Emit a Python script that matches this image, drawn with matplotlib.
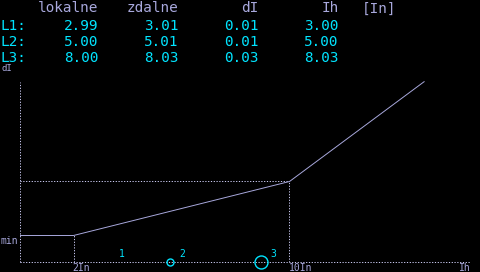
import matplotlib
matplotlib.use("Agg")
import matplotlib.pyplot as plt

# ---- data ----
columns = ["lokalne", "zdalne", "dI", "Ih"]
unit_label = "[In]"
rows = ["L1:", "L2:", "L3:"]
lokalne = [2.99, 5.00, 8.00]
zdalne = [3.01, 5.01, 8.03]
dI = [0.01, 0.01, 0.03]
Ih = [3.00, 5.00, 8.03]

# characteristic (Ih in In, dI in In)
char_ih = [0.0, 2.0, 10.0, 15.0]
char_di = [0.963, 0.963, 2.963, 6.67]
knee_labels = ["2In", "10In"]
knee_ih = [2.0, 10.0]
# measurement markers as placed on the chart
marker_ih = [3.33, 5.56, 8.93]
marker_names = ["1", "2", "3"]

# ---- style ----
LAV = "#a8a8dc"
CYAN = "#00e4ff"
BG = "black"
PX = 27.0  # pixels per In
marker_diam_px = [0, 7, 13]

W, H = 480, 272
fig = plt.figure(figsize=(W / 100, H / 100), dpi=100, facecolor=BG)

ax = fig.add_axes([19.5 / W, 10.5 / H, 460 / W, 191.5 / H])
ax.set_facecolor(BG)
ax.set_xlim(0, 460 / PX)
ax.set_ylim(0, 191.5 / PX)
ax.axis("off")

dot = dict(color="#c8c8f0", lw=0.72, linestyle=(0, (1.2, 1.6)), antialiased=True)
# axes
ax.plot([0, 0], [0, 179 / PX], clip_on=False, **dot)
ax.plot([0, 451 / PX], [0, 0], clip_on=False, **dot)
# guides
ax.plot([char_ih[1], char_ih[1]], [0, char_di[1]], **dot)
ax.plot([char_ih[2], char_ih[2]], [0, char_di[2]], **dot)
ax.plot([0, char_ih[2]], [char_di[2], char_di[2]], **dot)
# characteristic
ax.plot(char_ih, char_di, color=LAV, lw=0.7, antialiased=True, solid_capstyle="butt")

# markers
for x, d, name in zip(marker_ih, marker_diam_px, marker_names):
    if d > 0:
        ax.plot([x], [0], marker="o", ms=d * 0.72, mfc="none", mec=CYAN, mew=1.0,
                linestyle="none", clip_on=False)
    ax.annotate(name, (x, 0), xytext=(6.8, 3.2), textcoords="offset points",
                color=CYAN, fontsize=7, family="DejaVu Sans Mono", ha="left", va="baseline")

small = dict(color=LAV, fontsize=7, family="DejaVu Sans Mono")
for x, lab in zip(knee_ih, knee_labels):
    ax.annotate(lab, (x, 0), xytext=(-0.5, -1.0), textcoords="offset points",
                ha="left", va="top", **small)
ax.annotate("Ih", (451 / PX, 0), xytext=(0, -1.0), textcoords="offset points",
            ha="right", va="top", **small)
ax.annotate("min", (0, char_di[0]), xytext=(-1, -0.5), textcoords="offset points",
            ha="right", va="top", **small)
fig.text(1 / W, 1 - 71 / H, "dI", ha="left", va="baseline", color=LAV,
         fontsize=6.5, family="DejaVu Sans Mono")

# ---- table ----
big = dict(fontsize=10.4, family="DejaVu Sans Mono", va="baseline")
col_right = [98, 178, 258, 338]
header_base = 12.5
row_base = [29.5, 45.5, 61.5]
for cx, name in zip(col_right, columns):
    fig.text((cx + 0.5) / W, 1 - header_base / H, name, ha="right", color=LAV, **big)
fig.text(362 / W, 1 - header_base / H, unit_label, ha="left", color=LAV, **big)

for i, r in enumerate(rows):
    y = 1 - row_base[i] / H
    fig.text(0 / W, y, r, ha="left", color=CYAN, **big)
    vals = [lokalne[i], zdalne[i], dI[i], Ih[i]]
    for cx, v in zip(col_right, vals):
        fig.text((cx + 0.5) / W, y, f"{v:.2f}", ha="right", color=CYAN, **big)

fig.savefig("out.png", dpi=100, facecolor=BG)
